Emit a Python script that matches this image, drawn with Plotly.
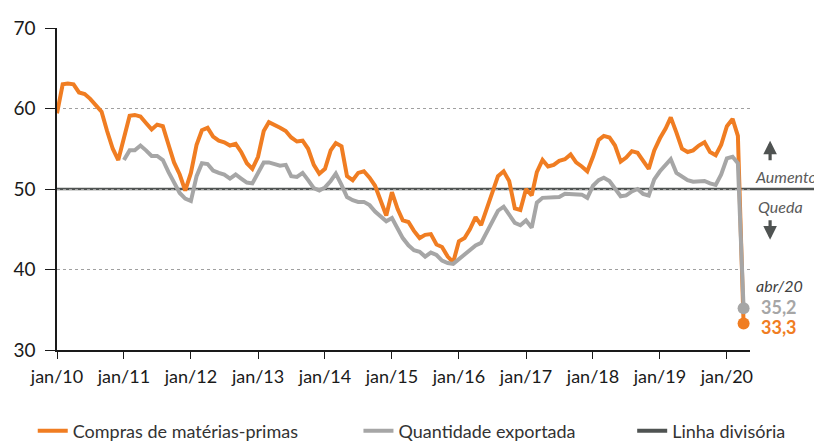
import pandas as pd
import plotly.graph_objects as go

# ---------------- data ----------------
months = pd.date_range("2010-01-01", periods=124, freq="MS")

compras = [59.4, 63.0, 63.1, 63.0, 62.0, 61.8, 61.2, 60.4, 59.6, 57.2, 55.0, 53.6,
           56.3, 59.1, 59.2, 59.0, 58.2, 57.4, 58.0, 57.8, 55.5, 53.3, 51.8, 49.8,
           52.0, 55.5, 57.3, 57.6, 56.5, 56.0, 55.8, 55.4, 55.6, 54.6, 53.2, 52.5,
           54.0, 57.2, 58.3, 58.0, 57.6, 57.2, 56.4, 55.9, 56.0, 55.0, 53.0, 51.9,
           52.5, 54.8, 55.7, 55.3, 51.6, 51.1, 52.0, 52.2, 51.4, 50.4, 48.4, 46.7,
           49.6, 47.5, 46.1, 45.9, 44.8, 43.9, 44.3, 44.4, 43.1, 42.8, 41.6, 40.9,
           43.5, 43.9, 45.0, 46.5, 45.5, 47.5, 49.8, 51.6, 52.2, 51.0, 47.6, 47.4,
           50.0, 49.2, 52.1, 53.6, 52.8, 53.0, 53.5, 53.7, 54.3, 53.3, 52.8, 52.2,
           54.0, 56.1, 56.6, 56.4, 55.4, 53.4, 53.9, 54.7, 54.5, 53.6, 52.5, 54.8,
           56.3, 57.5, 58.9, 57.0, 55.0, 54.6, 54.8, 55.4, 55.8, 54.6, 54.2, 55.5,
           57.8, 58.7, 56.6, 33.3]

exportada = [53.6, 54.8, 54.8, 55.4, 54.8, 54.1, 54.1, 53.6, 52.1, 50.9, 49.5, 48.8,
             48.5, 51.6, 53.2, 53.1, 52.3, 52.0, 51.8, 51.3, 51.8, 51.3, 50.8, 50.7,
             52.0, 53.3, 53.3, 53.1, 52.9, 53.0, 51.6, 51.5, 52.0, 51.1, 50.1, 49.8,
             50.2, 51.0, 51.9, 50.5, 49.0, 48.6, 48.4, 48.4, 48.0, 47.2, 46.6, 46.0,
             46.4, 45.2, 43.9, 43.0, 42.4, 42.2, 41.6, 42.1, 41.8, 41.1, 40.8, 40.7,
             41.3, 41.9, 42.5, 43.0, 43.3, 44.6, 46.1, 47.3, 47.8, 46.8, 45.8, 45.5,
             46.1, 45.2, 48.3, 48.9, 48.9, 49.0, 49.0, 49.4, 49.4, 49.4, 49.3, 48.9,
             50.4, 51.1, 51.4, 51.0, 50.1, 49.1, 49.2, 49.7, 50.0, 49.4, 49.2, 51.2,
             52.2, 53.0, 53.7, 52.0, 51.6, 51.1, 50.9, 51.0, 51.0, 50.7, 50.5, 51.8,
             53.8, 54.0, 53.2, 35.2]
exportada_months = months[12:]

linha_divisoria = 50
tick_dates = pd.date_range("2010-01-01", "2020-01-01", freq="YS")
tick_labels = ["jan/10", "jan/11", "jan/12", "jan/13", "jan/14", "jan/15",
               "jan/16", "jan/17", "jan/18", "jan/19", "jan/20"]
y_ticks = [30, 40, 50, 60, 70]

# ---------------- style ----------------
ORANGE = "#F07D22"
GREY = "#A6A6A6"
DARK = "#4F5352"
FONT = "Lato, Roboto, sans-serif"

fig = go.Figure()

fig.add_trace(go.Scatter(x=months, y=compras, mode="lines",
                         name="Compras de matérias-primas", legend="legend",
                         line=dict(color=ORANGE, width=4)))
fig.add_trace(go.Scatter(x=exportada_months, y=exportada, mode="lines",
                         name="Quantidade exportada", legend="legend2",
                         line=dict(color=GREY, width=4)))
fig.add_trace(go.Scatter(x=[None], y=[None], mode="lines", name="Linha divisória",
                         legend="legend3", line=dict(color=DARK, width=4)))
# end markers
fig.add_trace(go.Scatter(x=[months[-1]], y=[compras[-1]], mode="markers",
                         marker=dict(color=ORANGE, size=12), showlegend=False))
fig.add_trace(go.Scatter(x=[exportada_months[-1]], y=[exportada[-1]], mode="markers",
                         marker=dict(color=GREY, size=12), showlegend=False))

# dividing line at 50, extending past the plot to the right
fig.add_shape(type="line", xref="paper", yref="y", x0=0, x1=1.1, y0=linha_divisoria,
              y1=linha_divisoria, line=dict(color=DARK, width=2.5), layer="below")

ann_font = dict(family=FONT, size=16, color="#5A5A5A")
fig.add_annotation(xref="paper", yref="y", x=1.005, y=51.6, text="<i>Aumento</i>",
                   showarrow=False, xanchor="left", yanchor="middle", font=ann_font)
fig.add_annotation(xref="paper", yref="y", x=1.009, y=47.8, text="<i>Queda</i>",
                   showarrow=False, xanchor="left", yanchor="middle", font=ann_font)
fig.add_annotation(xref="paper", yref="y", x=1.029, y=56.0, text="", showarrow=True,
                   ax=0, ay=21, arrowhead=2, arrowsize=0.85, arrowwidth=3.2,
                   arrowcolor=DARK)
fig.add_annotation(xref="paper", yref="y", x=1.029, y=43.7, text="", showarrow=True,
                   ax=0, ay=-21, arrowhead=2, arrowsize=0.85, arrowwidth=3.2,
                   arrowcolor=DARK)
fig.add_annotation(xref="paper", yref="y", x=1.006, y=38.0, text="<i>abr/20</i>",
                   showarrow=False, xanchor="left", yanchor="middle",
                   font=dict(family=FONT, size=16, color="#404040"))
fig.add_annotation(xref="paper", yref="y", x=1.013, y=35.4,
                   text="<b>" + f"{exportada[-1]:.1f}".replace(".", ",") + "</b>",
                   showarrow=False, xanchor="left", yanchor="middle",
                   font=dict(family=FONT, size=18, color=GREY))
fig.add_annotation(xref="paper", yref="y", x=1.013, y=32.8,
                   text="<b>" + f"{compras[-1]:.1f}".replace(".", ",") + "</b>",
                   showarrow=False, xanchor="left", yanchor="middle",
                   font=dict(family=FONT, size=18, color=ORANGE))

leg_common = dict(orientation="h", xanchor="left", y=-0.252, yanchor="middle",
                  font=dict(family=FONT, size=18, color="#333333"),
                  bgcolor="rgba(0,0,0,0)")
fig.update_layout(
    width=814, height=433,
    margin=dict(l=49, r=72, t=20, b=91, autoexpand=False),
    paper_bgcolor="white", plot_bgcolor="white",
    font=dict(family=FONT, size=17, color="#1A1A1A"),
    showlegend=True,
    legend=dict(x=-0.035, **leg_common),
    legend2=dict(x=0.435, **leg_common),
    legend3=dict(x=0.83, **leg_common),
)
fig.update_xaxes(range=["2010-01-01", "2020-05-06"], tickvals=tick_dates,
                 ticktext=tick_labels, ticks="outside", ticklen=7, tickcolor="#1A1A1A",
                 showline=True, linecolor="#1A1A1A", linewidth=1.5,
                 showgrid=False, zeroline=False, tickfont=dict(size=18),
                 ticklabelstandoff=3)
fig.update_yaxes(range=[30, 70], tickvals=y_ticks, ticks="outside", ticklen=10,
                 tickcolor="#1A1A1A", showline=True, linecolor="#1A1A1A",
                 linewidth=1.5, showgrid=True, gridcolor="#A0A0A0", griddash="dot",
                 gridwidth=1, zeroline=False, tickfont=dict(size=19),
                 ticklabelstandoff=6)

fig.write_html("out.html")
